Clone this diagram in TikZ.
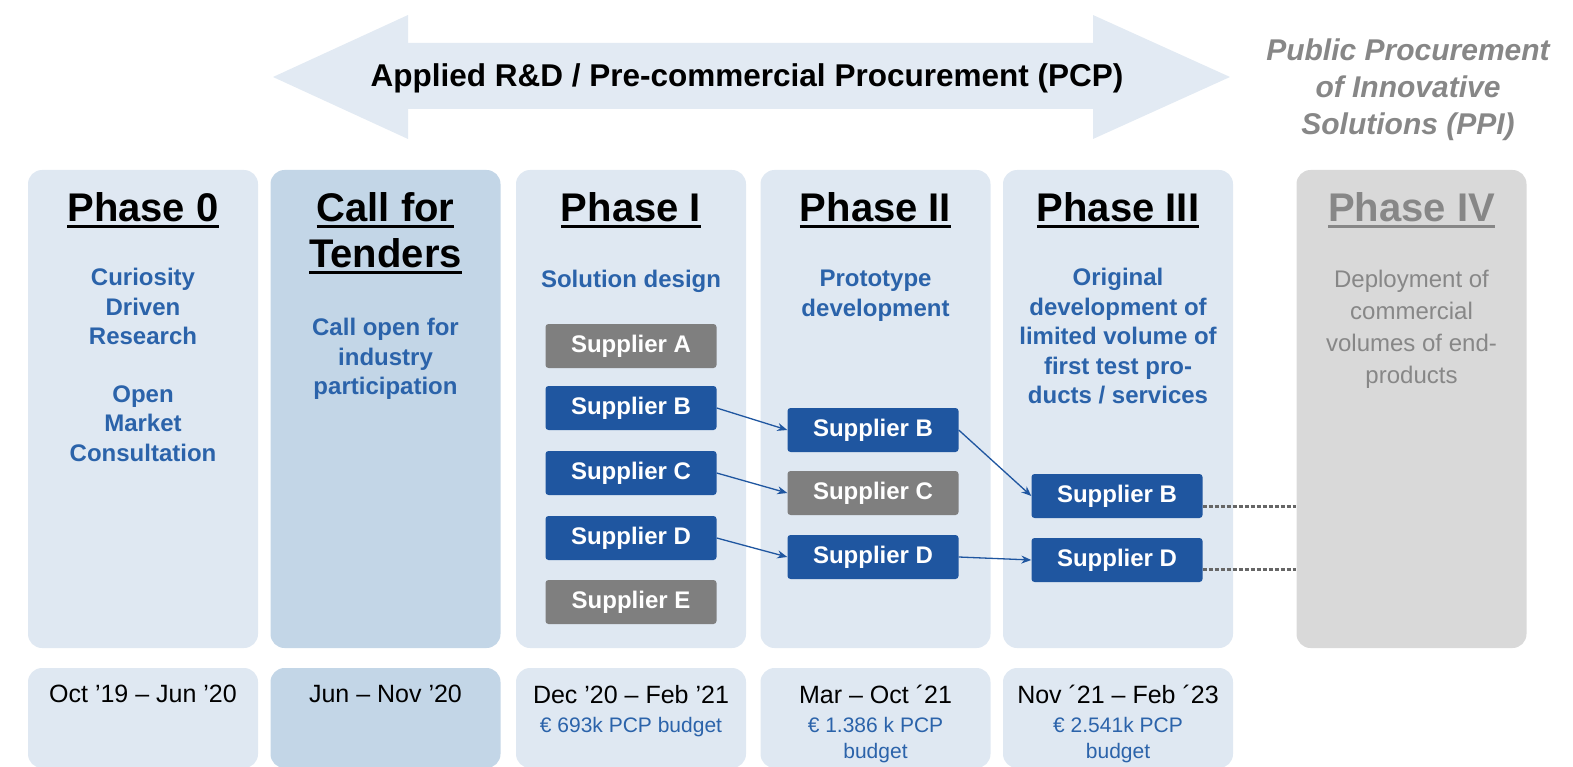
\documentclass[tikz,border=0pt]{standalone}
\usepackage{fontspec}
\setmainfont{Liberation Sans}
\usepackage{tikz}
\usetikzlibrary{arrows.meta}
\definecolor{col_light}{HTML}{DFE8F2}
\definecolor{col_call}{HTML}{C3D6E7}
\definecolor{col_ppi}{HTML}{D9D9D9}
\definecolor{arr_light}{HTML}{E2EAF3}
\definecolor{txt_blue}{HTML}{2B63AA}
\definecolor{txt_gray}{HTML}{878787}
\definecolor{sup_blue}{HTML}{1F56A0}
\definecolor{sup_gray}{HTML}{7F7F7F}
\newcommand{\phaseul}[1]{\leavevmode\setbox0=\hbox{#1}\rlap{\rule[-7pt]{\wd0}{3pt}}\box0}
\tikzset{
    phase_box/.style={rectangle,rounded corners=14pt,minimum width=230pt,minimum height=478pt,inner sep=0pt},
    date_box/.style={phase_box,minimum height=100pt},
    phase_title/.style={font=\bfseries\fontsize{40}{46}\selectfont,align=center,anchor=north,inner sep=0pt},
    phase_desc/.style={font=\bfseries\fontsize{24}{29.5}\selectfont,text=txt_blue,align=center,anchor=north,inner sep=0pt},
    sup_on/.style={rectangle,rounded corners=3pt,minimum width=171pt,minimum height=44pt,inner sep=0pt,
        font=\bfseries\fontsize{24}{28}\selectfont,text=white,fill=sup_blue},
    sup_off/.style={sup_on,fill=sup_gray},
    flow/.style={-{Stealth[length=10pt,width=8pt]},sup_blue,line width=1.3pt},
    ppi_link/.style={dash pattern=on 4pt off 2pt,line width=3pt,black!60},
    date_text/.style={font=\fontsize{25}{29}\selectfont,anchor=north,inner sep=0pt},
    budget_text/.style={font=\fontsize{21}{26}\selectfont,text=txt_blue,align=center,anchor=north,inner sep=0pt},
}

\begin{document}
\begin{tikzpicture}[x=1pt,y=-1pt]
  \useasboundingbox (0,0) rectangle (1573,767);
  % Double arrow over the PCP phases
  \fill[arr_light] (273,77) -- (408,15) -- (408,43) -- (1093,43) -- (1093,15) -- (1230,77)
      -- (1093,139) -- (1093,109) -- (408,109) -- (408,139) -- cycle;
  \node[font=\bfseries\fontsize{31.5}{36}\selectfont] (pcp) at (747,78) {Applied R\&D / Pre-commercial Procurement (PCP)};
  \node[font=\bfseries\itshape\fontsize{30}{37}\selectfont,text=txt_gray,align=center,anchor=north,inner sep=0pt] (ppi) at (1408,39)
      {Public Procurement\\of Innovative\\Solutions (PPI)};
  % Phase columns
  \node[phase_box,fill=col_light] (ph0) at (143,409) {};
  \node[phase_box,fill=col_call] (phc) at (385.5,409) {};
  \node[phase_box,fill=col_light] (ph1) at (631,409) {};
  \node[phase_box,fill=col_light] (ph2) at (875.5,409) {};
  \node[phase_box,fill=col_light] (ph3) at (1118,409) {};
  \node[phase_box,fill=col_ppi] (ph4) at (1411.5,409) {};
  % Date boxes
  \node[date_box,fill=col_light] (db0) at (143,718) {};
  \node[date_box,fill=col_call] (dbc) at (385.5,718) {};
  \node[date_box,fill=col_light] (db1) at (631,718) {};
  \node[date_box,fill=col_light] (db2) at (875.5,718) {};
  \node[date_box,fill=col_light] (db3) at (1118,718) {};
  % Titles
  \node[phase_title] (t0) at (143,192) {\phaseul{Phase 0}};
  \node[phase_title] (tc) at (385.5,192) {\phaseul{Call for}\\\phaseul{Tenders}};
  \node[phase_title] (t1) at (631,192) {\phaseul{Phase I}};
  \node[phase_title] (t2) at (875.5,192) {\phaseul{Phase II}};
  \node[phase_title] (t3) at (1118,192) {\phaseul{Phase III}};
  \node[phase_title,text=txt_gray] (t4) at (1411.5,192) {\phaseul{Phase IV}};
  % Descriptions
  \node[phase_desc] (s0) at (143,268) {Curiosity\\Driven\\Research\\[28pt]Open\\Market\\Consultation};
  \node[phase_desc] (sc) at (385.5,318) {Call open for\\industry\\participation};
  \node[phase_desc] (s1) at (631,270) {Solution design};
  \node[phase_desc] (s2) at (875.5,270) {Prototype\\development};
  \node[phase_desc] (s3) at (1118,268) {Original\\development of\\limited volume of\\first test pro-\\ducts / services};
  \node[phase_desc,font=\fontsize{24}{32}\selectfont,text=txt_gray] (s4) at (1411.5,270) {Deployment of\\commercial\\volumes of end-\\products};
  % Suppliers
  \node[sup_off] (p1a) at (631,346) {Supplier A};
  \node[sup_on] (p1b) at (631,408) {Supplier B};
  \node[sup_on] (p1c) at (631,473) {Supplier C};
  \node[sup_on] (p1d) at (631,538) {Supplier D};
  \node[sup_off] (p1e) at (631,602) {Supplier E};
  \node[sup_on] (p2b) at (873,430) {Supplier B};
  \node[sup_off] (p2c) at (873,493) {Supplier C};
  \node[sup_on] (p2d) at (873,557) {Supplier D};
  \node[sup_on] (p3b) at (1117,496) {Supplier B};
  \node[sup_on] (p3d) at (1117,560) {Supplier D};
  % Selection arrows
  \draw[flow] (p1b.east) -- (p2b.west);
  \draw[flow] (p1c.east) -- (p2c.west);
  \draw[flow] (p1d.east) -- (p2d.west);
  \draw[flow] (p2b.east) -- (p3b.west);
  \draw[flow] (p2d.east) -- (p3d.west);
  % Links to PPI
  \coordinate (b_out) at ([yshift=-10pt]p3b.east);
  \coordinate (d_out) at ([yshift=-9pt]p3d.east);
  \draw[ppi_link] (b_out) -- (b_out -| ph4.west);
  \draw[ppi_link] (d_out) -- (d_out -| ph4.west);
  % Dates and budgets
  \node[date_text] (dt0) at (143,685) {Oct ’19 – Jun ’20};
  \node[date_text] (dtc) at (385.5,685) {Jun – Nov ’20};
  \node[date_text] (dt1) at (631,685) {Dec ’20 – Feb ’21};
  \node[date_text] (dt2) at (875.5,685) {Mar – Oct ´21};
  \node[date_text] (dt3) at (1118,685) {Nov ´21 – Feb ´23};
  \node[budget_text] (bg1) at (631,717) {€ 693k PCP budget};
  \node[budget_text] (bg2) at (875.5,717) {€ 1.386 k PCP\\budget};
  \node[budget_text] (bg3) at (1118,717) {€ 2.541k PCP\\budget};
\end{tikzpicture}
\end{document}
